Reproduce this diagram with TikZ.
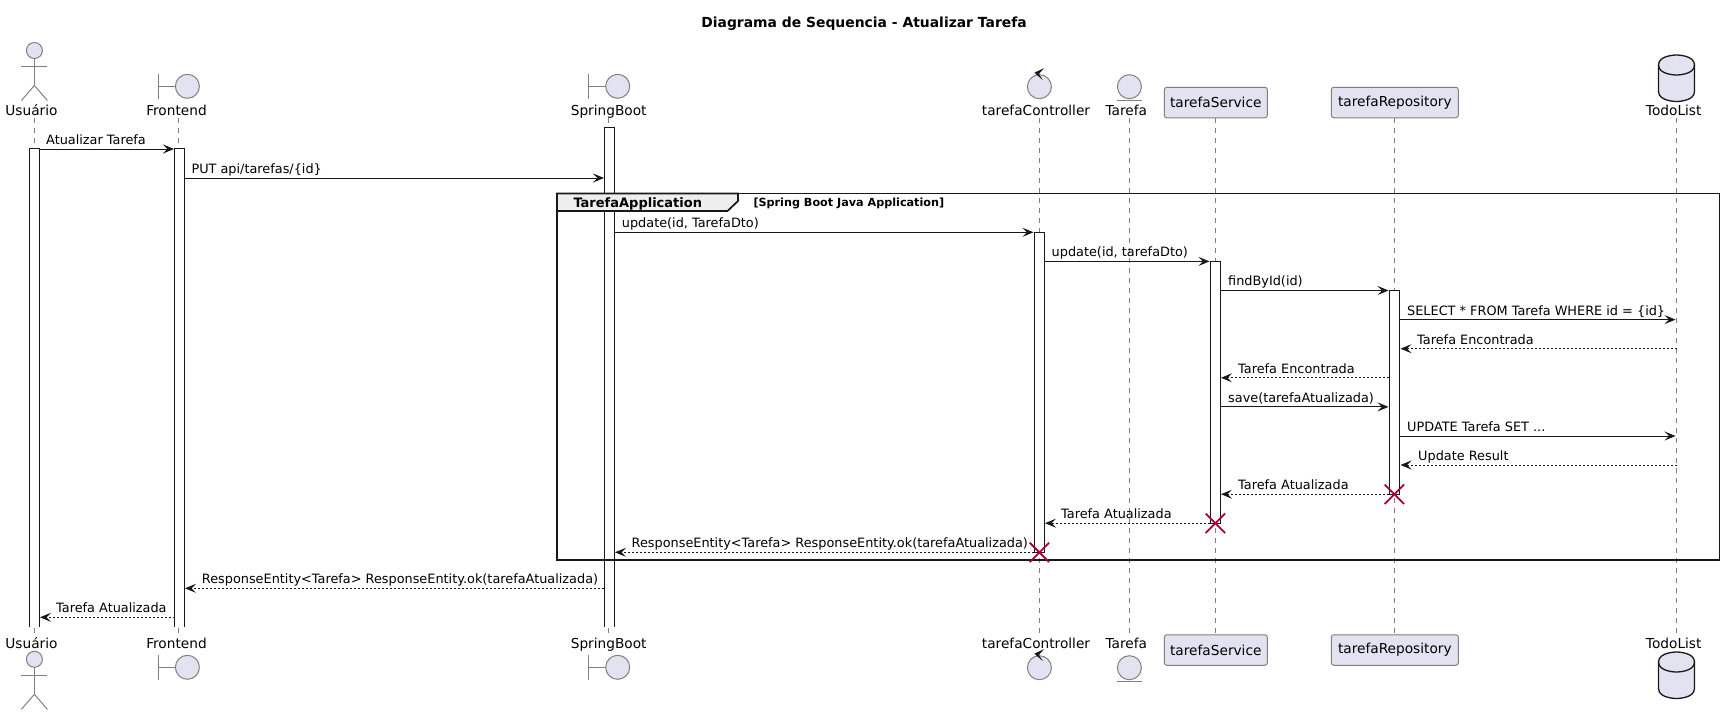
\documentclass[tikz,border=0pt]{standalone}
\usepackage{fontspec}
\setmainfont{DejaVu Sans}
\usetikzlibrary{arrows.meta,calc}
\definecolor{pfill}{HTML}{E2E2F0}
\definecolor{pline}{HTML}{181818}
\definecolor{gline}{HTML}{808080}
\definecolor{xred}{HTML}{A80036}
\definecolor{tabfill}{HTML}{EEEEEE}
\tikzset{
  lifeline/.style={draw=gline,line width=0.8pt,dash pattern=on 5pt off 5pt},
  actbar/.style={draw=pline,fill=white,line width=1pt,inner sep=0pt,minimum width=10pt,rectangle},
  openbar/.style={fill=white,inner sep=0pt,minimum width=10pt,rectangle},
  barside/.style={draw=pline,line width=1pt},
  msgsync/.style={draw=pline,line width=0.9pt,-{Stealth[length=11pt,width=9pt,inset=4.5pt]}},
  msgret/.style={draw=pline,line width=0.8pt,dash pattern=on 2pt off 2pt,-{Stealth[length=11pt,width=9pt,inset=4.5pt]}},
  msglabel/.style={inner sep=0pt,anchor=base west,font=\fontsize{12.85}{15}\selectfont,text=black},
  plabel/.style={inner sep=0pt,anchor=base,font=\fontsize{13.7}{16}\selectfont,text=black},
  pbox/.style={draw=gline,fill=pfill,line width=1pt,rounded corners=2.5pt,inner sep=0pt,rectangle,minimum height=30.5pt,font=\fontsize{13.7}{16}\selectfont,text=black},
  glyph/.style={draw=gline,line width=1pt,fill=pfill},
  stroke/.style={draw=gline,line width=1pt},
  dbglyph/.style={draw=pline,line width=1.3pt,fill=pfill},
  xmark/.style={draw=xred,line width=1.8pt},
  frame/.style={draw=pline,line width=1.7pt},
  tabshape/.style={draw=pline,line width=1.7pt,fill=tabfill},
}
% actor: head centre at #2
\newcommand{\actorglyph}[2]{%
  \draw[glyph] (#1,#2) circle (8);
  \draw[stroke] (#1,#2+8) -- (#1,#2+35);
  \draw[stroke] (#1-13,#2+16) -- (#1+13,#2+16);
  \draw[stroke] (#1-13,#2+50) -- (#1,#2+35) -- (#1+13,#2+50);}
% boundary: #1 left bar x, #2 centre y
\newcommand{\boundaryglyph}[2]{%
  \draw[stroke] (#1,#2-12.5) -- (#1,#2+12.5);
  \draw[stroke] (#1,#2) -- (#1+17,#2);
  \draw[glyph] (#1+29,#2) circle (12);}
\newcommand{\controlglyph}[2]{%
  \draw[glyph] (#1,#2) circle (12);
  \fill[pline] (#1+4.5,#2-18.5) -- (#1-5,#2-14) -- (#1+3.5,#2-6.5) -- (#1-0.5,#2-12.7) -- cycle;}
\newcommand{\entityglyph}[2]{%
  \draw[glyph] (#1,#2) circle (12);
  \draw[stroke] (#1-12.5,#2+13.5) -- (#1+12.5,#2+13.5);}
\newcommand{\dbglyph}[2]{% #1 left x, #2 top y
  \draw[dbglyph] (#1,#2+10) .. controls (#1,#2) and (#1+18,#2) .. (#1+18,#2)
    .. controls (#1+18,#2) and (#1+36,#2) .. (#1+36,#2+10) -- (#1+36,#2+36.5)
    .. controls (#1+36,#2+46.5) and (#1+18,#2+46.5) .. (#1+18,#2+46.5)
    .. controls (#1+18,#2+46.5) and (#1,#2+46.5) .. (#1,#2+36.5) -- cycle;
  \draw[dbglyph,fill=none] (#1,#2+10) .. controls (#1,#2+20) and (#1+18,#2+20) .. (#1+18,#2+20)
    .. controls (#1+18,#2+20) and (#1+36,#2+20) .. (#1+36,#2+10);}
\newcommand{\actbarnode}[4]{% name, x centre, y top, y bottom
  \path let \n1={#3+(#4-#3)/2}, \n2={#4-#3} in
    node[actbar,minimum height=\n2,name=#1] at (#2,\n1) {};}
\newcommand{\openbarnode}[4]{% bar running off at its lower end
  \path let \n1={#3+(#4-#3)/2}, \n2={#4-#3} in
    node[openbar,minimum height=\n2,name=#1] at (#2,\n1) {};
  \draw[barside] (#1.south west) -- (#1.north west) -- (#1.north east) -- (#1.south east);}
\newcommand{\msgline}[7]{% style,name,x1,x2,y,labelx,text
  \coordinate (#2a) at (#3,#5);
  \coordinate (#2b) at (#4,#5);
  \draw[#1] (#2a) -- (#2b);
  \node[msglabel] (#2t) at (#6,#5-4.6) {#7};}
\newcommand{\destroy}[3]{% name,x,y
  \coordinate (#1) at (#2,#3);
  \draw[xmark] ([xshift=-9.7pt,yshift=9.7pt]#1) -- ([xshift=9.7pt,yshift=-9.7pt]#1);
  \draw[xmark] ([xshift=-9.7pt,yshift=-9.7pt]#1) -- ([xshift=9.7pt,yshift=9.7pt]#1);}
\begin{document}
\begin{tikzpicture}[x=1pt,y=-1pt]
\useasboundingbox (0,0) rectangle (1724,715);
\fill[white] (0,0) rectangle (1724,715);

\node[inner sep=0pt,anchor=base,font=\bfseries\fontsize{13.9}{16}\selectfont] (title) at (864,27) {Diagrama de Sequencia - Atualizar Tarefa};

% lifelines
\foreach \nm/\xx/\yt/\yb in {usu/34.4/118/634,fro/178.4/118/634,spr/608.7/118/634,ctl/1039.4/118/634,ent/1129.4/118/634,svc/1215.4/118/634,rep/1394.4/118/634,tod/1676.7/118/634}{
  \coordinate (\nm T) at (\xx,\yt);
  \coordinate (\nm B) at (\xx,\yb);
  \draw[lifeline] (\nm T) -- (\nm B);
}

% activation bars
\openbarnode{barUsu}{34.6}{149}{627}
\openbarnode{barFro}{179.6}{149}{627}
\openbarnode{barSpr}{609.4}{128}{627}
\actbarnode{barCtl}{1039.4}{232.3}{552.3}
\actbarnode{barSvc}{1215.4}{261.4}{523.2}
\actbarnode{barRep}{1394.4}{290.5}{494.2}

% group frame
\coordinate (fTL) at (557,193.5);
\coordinate (fBR) at (1719.5,560);
\draw[frame] (fTL) rectangle (fBR);
\draw[tabshape] (557,193.5) -- (738,193.5) -- (738,201) -- (727.5,211) -- (557,211) -- cycle;
\node[inner sep=0pt,anchor=base west,font=\bfseries\fontsize{13}{16}\selectfont] (gname) at (573.3,207) {TarefaApplication};
\node[inner sep=0pt,anchor=base west,font=\bfseries\fontsize{11.2}{13}\selectfont] (gdesc) at (753.3,206) {[Spring Boot Java Application]};

% messages
\msgline{msgsync}{m1}{39.6}{174}{149}{46}{Atualizar Tarefa}
\msgline{msgsync}{m2}{184.6}{604}{178}{191.3}{PUT api/tarefas/\{id\}}
\msgline{msgsync}{m3}{614.4}{1033.5}{232.3}{621.7}{update(id, TarefaDto)}
\msgline{msgsync}{m4}{1044.4}{1209.5}{261.4}{1051.5}{update(id, tarefaDto)}
\msgline{msgsync}{m5}{1220.4}{1388.5}{290.5}{1228}{findById(id)}
\msgline{msgsync}{m6}{1399.4}{1675.5}{319.6}{1407}{SELECT * FROM Tarefa WHERE id = \{id\}}
\msgline{msgret}{m7}{1676.7}{1400.5}{348.7}{1417}{Tarefa Encontrada}
\msgline{msgret}{m8}{1389.4}{1221}{377.8}{1238}{Tarefa Encontrada}
\msgline{msgsync}{m9}{1220.4}{1388.5}{406.9}{1228}{save(tarefaAtualizada)}
\msgline{msgsync}{m10}{1399.4}{1675.5}{436}{1407}{UPDATE Tarefa SET ...}
\msgline{msgret}{m11}{1676.7}{1400.5}{465}{1418}{Update Result}
\msgline{msgret}{m12}{1389.4}{1221}{494.2}{1238}{Tarefa Atualizada}
\msgline{msgret}{m13}{1210.4}{1045}{523.2}{1061}{Tarefa Atualizada}
\msgline{msgret}{m14}{1034.4}{615}{552.3}{631.5}{ResponseEntity<Tarefa> ResponseEntity.ok(tarefaAtualizada)}
\msgline{msgret}{m15}{604.4}{185}{588.3}{201.7}{ResponseEntity<Tarefa> ResponseEntity.ok(tarefaAtualizada)}
\msgline{msgret}{m16}{174.6}{40}{617.3}{56}{Tarefa Atualizada}

% destroys
\destroy{xRep}{1394.4}{494.3}
\destroy{xSvc}{1215.4}{523.3}
\destroy{xCtl}{1039.4}{552.4}

% top participants
\actorglyph{34.4}{50.5}
\node[plabel] (usuTop) at (31.5,115) {Usuário};
\boundaryglyph{158.4}{86.3}
\node[plabel] (froTop) at (176.5,115) {Frontend};
\boundaryglyph{588.7}{86.3}
\node[plabel] (sprTop) at (608.7,115) {SpringBoot};
\controlglyph{1039.4}{86.7}
\node[plabel] (ctlTop) at (1036,115) {tarefaController};
\entityglyph{1129.4}{86.7}
\node[plabel] (entTop) at (1126.3,115) {Tarefa};
\node[pbox,minimum width=103pt] (svcTop) at (1215.8,102.5) {tarefaService};
\node[pbox,minimum width=127pt] (repTop) at (1394.8,102.5) {tarefaRepository};
\dbglyph{1658.5}{55}
\node[plabel] (todTop) at (1673.7,115) {TodoList};

% bottom participants
\node[plabel] (usuBot) at (31.5,648) {Usuário};
\actorglyph{34.4}{659.3}
\node[plabel] (froBot) at (176.5,648) {Frontend};
\boundaryglyph{158.4}{667.3}
\node[plabel] (sprBot) at (608.7,648) {SpringBoot};
\boundaryglyph{588.7}{667.3}
\node[plabel] (ctlBot) at (1036,648) {tarefaController};
\controlglyph{1039.4}{667.7}
\node[plabel] (entBot) at (1126.3,648) {Tarefa};
\entityglyph{1129.4}{667.7}
\node[pbox,minimum width=103pt] (svcBot) at (1215.8,650) {tarefaService};
\node[pbox,minimum width=127pt] (repBot) at (1394.8,650) {tarefaRepository};
\node[plabel] (todBot) at (1673.7,648) {TodoList};
\dbglyph{1658.5}{652}
\end{tikzpicture}
\end{document}
